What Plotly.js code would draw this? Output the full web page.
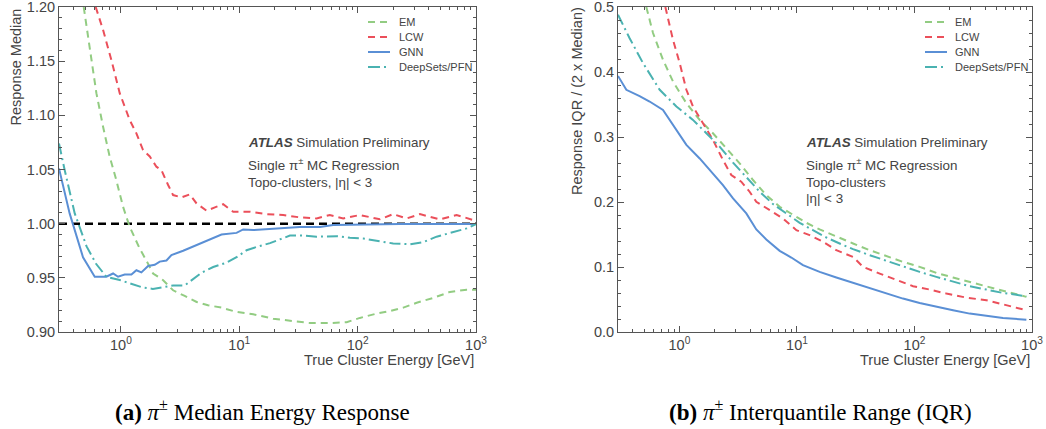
<!DOCTYPE html>
<html>
<head>
<meta charset="utf-8">
<script src="https://cdn.plot.ly/plotly-3.0.1.min.js"></script>
<style>html,body{margin:0;padding:0;background:#fff;}#chart{width:1046px;height:429px;}</style>
</head>
<body>
<div id="chart"></div>
<script>
// ---- Data (x stored as log10 of True Cluster Energy [GeV]) ----
const seriesNames = ["EM", "LCW", "GNN", "DeepSets/PFN"];

// (a) Response median
const medEmLogE = [-0.314,-0.264,-0.207,-0.151,-0.095,-0.039,0.018,0.074,0.159,0.215,0.272,0.355,0.441,0.539,0.64,0.736,0.85,0.977,1.118,1.286,1.456,1.597,1.765,1.907,2.019,2.16,2.273,2.386,2.499,2.639,2.78,2.921,3.0];
const medEmVal  = [1.200,1.1605,1.1205,1.0897,1.062,1.0403,1.0157,0.9972,0.977,0.966,0.954,0.948,0.9385,0.9333,0.9277,0.9247,0.9225,0.9185,0.9163,0.9123,0.9102,0.9083,0.9083,0.909,0.913,0.917,0.9194,0.9225,0.927,0.9315,0.937,0.939,0.939];

const medLcwLogE = [-0.213,-0.151,-0.081,-0.01,0.074,0.131,0.187,0.244,0.30,0.342,0.399,0.441,0.512,0.582,0.639,0.723,0.794,0.864,0.949,1.09,1.23,1.371,1.512,1.653,1.765,1.878,2.019,2.188,2.30,2.413,2.526,2.695,2.836,3.0];
const medLcwVal  = [1.200,1.179,1.1513,1.1205,1.0958,1.0834,1.068,1.062,1.0526,1.0495,1.0357,1.0264,1.0242,1.027,1.0187,1.012,1.015,1.018,1.011,1.011,1.0088,1.008,1.0058,1.0048,1.008,1.0048,1.008,1.004,1.0088,1.0048,1.0088,1.004,1.008,1.0026];

const medGnnLogE = [-0.523,-0.433,-0.32,-0.221,-0.123,-0.066,-0.024,0.032,0.089,0.131,0.173,0.23,0.286,0.328,0.385,0.427,0.526,0.61,0.695,0.78,0.85,0.977,1.033,1.118,1.23,1.371,1.512,1.681,1.794,2.076,2.358,3.0];
const medGnnVal  = [1.051,1.0095,0.969,0.951,0.951,0.954,0.951,0.953,0.953,0.957,0.955,0.961,0.962,0.965,0.966,0.971,0.975,0.979,0.983,0.987,0.990,0.9915,0.9947,0.9941,0.995,0.9956,0.997,0.997,0.9987,0.9993,0.9996,0.9996];

const medDsLogE = [-0.523,-0.475,-0.39,-0.29,-0.21,-0.123,-0.01,0.10,0.187,0.27,0.355,0.441,0.539,0.61,0.68,0.78,0.892,0.977,1.062,1.16,1.26,1.343,1.428,1.54,1.653,1.822,1.935,2.048,2.16,2.30,2.442,2.554,2.667,2.808,2.921,3.0];
const medDsVal  = [1.074,1.0495,1.0095,0.979,0.963,0.951,0.948,0.944,0.941,0.9398,0.9416,0.943,0.943,0.949,0.9546,0.960,0.964,0.969,0.9755,0.979,0.982,0.9855,0.989,0.989,0.988,0.9885,0.987,0.9863,0.984,0.9817,0.981,0.983,0.988,0.9925,0.9956,0.9996];

// (b) Response IQR / (2 x Median)
const iqrEmLogE = [-0.282,-0.225,-0.14,-0.055,0.059,0.172,0.285,0.399,0.512,0.626,0.739,0.853,0.966,1.08,1.193,1.335,1.477,1.619,1.761,1.902,2.044,2.186,2.328,2.47,2.612,2.753,2.952];
const iqrEmVal  = [0.500,0.46,0.4188,0.3854,0.352,0.3263,0.3058,0.2826,0.2595,0.2338,0.2107,0.1927,0.1799,0.168,0.1578,0.1465,0.1362,0.1259,0.1167,0.1079,0.1002,0.091,0.0838,0.0771,0.0694,0.0632,0.054];

const iqrLcwLogE = [-0.12,-0.055,0.002,0.059,0.115,0.2,0.285,0.37,0.441,0.526,0.597,0.654,0.768,0.881,0.995,1.108,1.222,1.335,1.477,1.562,1.704,1.846,1.988,2.129,2.271,2.441,2.612,2.753,2.952];
const iqrLcwVal  = [0.500,0.4496,0.4137,0.3726,0.3469,0.3212,0.2955,0.2647,0.2415,0.2312,0.2158,0.2004,0.1876,0.1747,0.1567,0.149,0.1388,0.1259,0.1156,0.1002,0.0899,0.0797,0.0704,0.0653,0.0591,0.0529,0.0488,0.0426,0.0334];

const iqrGnnLogE = [-0.523,-0.452,-0.339,-0.254,-0.14,-0.026,0.059,0.172,0.257,0.37,0.456,0.569,0.654,0.739,0.853,0.952,1.051,1.193,1.335,1.477,1.619,1.761,1.902,2.044,2.186,2.328,2.47,2.612,2.753,2.952];
const iqrGnnVal  = [0.394,0.3726,0.363,0.3546,0.3417,0.311,0.2878,0.267,0.249,0.226,0.2055,0.1824,0.1578,0.1423,0.1249,0.1146,0.1028,0.0925,0.0838,0.0755,0.0668,0.0591,0.0514,0.0447,0.0385,0.0334,0.0283,0.0247,0.0216,0.019];

const iqrDsLogE = [-0.523,-0.424,-0.31,-0.168,-0.026,0.115,0.229,0.342,0.456,0.569,0.683,0.796,0.91,1.023,1.136,1.25,1.363,1.477,1.619,1.761,1.902,2.044,2.186,2.328,2.47,2.612,2.753,2.952];
const iqrDsVal  = [0.488,0.452,0.4137,0.3726,0.3469,0.3263,0.3058,0.2852,0.2605,0.239,0.2158,0.1968,0.1824,0.168,0.1567,0.1454,0.1362,0.1274,0.1182,0.1095,0.1002,0.0925,0.0848,0.0771,0.0704,0.0653,0.0601,0.055];

const unityResponse = 1.0;
const xMajorTicks = [1, 10, 100, 1000];
const xMajorText = ["10<sup>0</sup>", "10<sup>1</sup>", "10<sup>2</sup>", "10<sup>3</sup>"];
const xMinorTicks = [0.3,0.4,0.5,0.6,0.7,0.8,0.9,2,3,4,5,6,7,8,9,20,30,40,50,60,70,80,90,200,300,400,500,600,700,800,900];
const xRange = [0.3, 1000];
const medTicks = [0.90, 0.95, 1.00, 1.05, 1.10, 1.15, 1.20];
const iqrTicks = [0.0, 0.1, 0.2, 0.3, 0.4, 0.5];

// ---- Styles ----
const seriesKeys = ["EM", "LCW", "GNN", "DS"];
const colors = {EM: "#92cc82", LCW: "#eb4f5a", GNN: "#5a8fd5", DS: "#4ab2b1"};
const dashes = {EM: "7px,5px", LCW: "7px,5px", GNN: "solid", DS: "11px,4px,2px,4px"};
const toE = a => a.map(v => Math.pow(10, v));

function tr(xl, y, key, name, xa, ya) {
  return {x: toE(xl), y: y, name: name, type: "scatter", mode: "lines",
    xaxis: xa, yaxis: ya, showlegend: false,
    line: {color: colors[key], width: 2, dash: dashes[key]}, hoverinfo: "skip"};
}

const data = [
  tr(medEmLogE, medEmVal, "EM", seriesNames[0], "x", "y"),
  tr(medLcwLogE, medLcwVal, "LCW", seriesNames[1], "x", "y"),
  tr(medGnnLogE, medGnnVal, "GNN", seriesNames[2], "x", "y"),
  tr(medDsLogE, medDsVal, "DS", seriesNames[3], "x", "y"),
  tr(iqrEmLogE, iqrEmVal, "EM", seriesNames[0], "x2", "y2"),
  tr(iqrLcwLogE, iqrLcwVal, "LCW", seriesNames[1], "x2", "y2"),
  tr(iqrGnnLogE, iqrGnnVal, "GNN", seriesNames[2], "x2", "y2"),
  tr(iqrDsLogE, iqrDsVal, "DS", seriesNames[3], "x2", "y2")
];

const axisColor = "#555";
const sans = "Liberation Sans, Arial, sans-serif";
const serif = "Liberation Serif, Times New Roman, serif";
const tickFont = {family: sans, size: 14.5, color: "#444"};
function xAxis(dom, anchor) {
  return {type: "log", domain: dom, anchor: anchor, range: [Math.log10(xRange[0]), Math.log10(xRange[1])],
    tickmode: "array", tickvals: xMajorTicks, ticktext: xMajorText, ticklabeloverflow: "allow",
    ticks: "inside", ticklen: 6, tickwidth: 1, tickcolor: axisColor,
    minor: {tickmode: "array", tickvals: xMinorTicks, ticks: "inside", ticklen: 3, tickwidth: 1, tickcolor: axisColor},
    showline: true, linecolor: axisColor, linewidth: 1, mirror: "ticks",
    showgrid: false, zeroline: false, tickfont: tickFont};
}
function yAxis(dom, anchor, rng, tv, mdt, fmt) {
  return {domain: dom, anchor: anchor, range: rng, tickmode: "array", tickvals: tv,
    ticktext: tv.map(v => v.toFixed(fmt)), ticklabeloverflow: "allow",
    ticks: "inside", ticklen: 6, tickwidth: 1, tickcolor: axisColor,
    minor: {dtick: mdt, tick0: 0, ticks: "inside", ticklen: 3, tickwidth: 1, tickcolor: axisColor},
    showline: true, linecolor: axisColor, linewidth: 1, mirror: "ticks",
    showgrid: false, zeroline: false, tickfont: tickFont};
}

const W = 1046, H = 429;
const yDom = [1 - 332/H, 1 - 7/H];
const txt = {family: sans, size: 13.4, color: "#444"};
const title = {family: sans, size: 14.5, color: "#444"};
const legFont = {family: sans, size: 11, color: "#444"};

function ann(x, y, text, font, xanchor, extra) {
  return Object.assign({xref: "paper", yref: "paper", x: x/W, y: 1 - y/H, text: text,
    showarrow: false, font: font, xanchor: xanchor, yanchor: "middle"}, extra || {});
}

// Hand-built legends (line sample + label) for both panels
const legendRows = [22, 37, 52, 67];
const legendShapes = [], legendAnns = [];
[[368, 390, 397], [925, 947, 953]].forEach(([x0, x1, xt]) => {
  seriesKeys.forEach((k, i) => {
    legendShapes.push({type: "line", xref: "paper", yref: "paper", x0: x0/W, x1: x1/W,
      y0: 1 - legendRows[i]/H, y1: 1 - legendRows[i]/H,
      line: {color: colors[k], width: 2, dash: k === "DS" ? "12px,4px,2px,4px" : dashes[k]}});
    legendAnns.push(ann(xt, legendRows[i], seriesNames[i], legFont, "left"));
  });
});

const layout = {
  width: W, height: H, margin: {l: 0, r: 0, t: 0, b: 0},
  paper_bgcolor: "#fff", plot_bgcolor: "#fff", showlegend: false,
  xaxis: xAxis([59/W, 476/W], "y"),
  yaxis: yAxis(yDom, "x", [0.9, 1.2], medTicks, 0.01, 2),
  xaxis2: xAxis([618/W, 1032/W], "y2"),
  yaxis2: yAxis(yDom, "x2", [0, 0.5], iqrTicks, 0.02, 1),
  shapes: [{type: "line", xref: "x domain", yref: "y", x0: 0, x1: 1, y0: unityResponse, y1: unityResponse,
    line: {color: "#000", width: 2.5, dash: "8px,5px"}, layer: "below"}].concat(legendShapes),
  annotations: [
    ann(476, 360, "True Cluster Energy [GeV]", title, "right"),
    ann(1032, 360, "True Cluster Energy [GeV]", title, "right"),
    Object.assign(ann(15, 7, "Response Median", title, "center", {textangle: -90}), {yanchor: "top"}),
    Object.assign(ann(577, 5, "Response IQR / (2 x Median)", title, "center", {textangle: -90}), {yanchor: "top"}),
    ann(246, 143, "<b><i>ATLAS</i></b> Simulation Preliminary", txt, "left"),
    ann(246, 165, "Single π<sup>±</sup> MC Regression", txt, "left"),
    ann(246, 182, "Topo-clusters, |η| &lt; 3", txt, "left"),
    ann(804, 143, "<b><i>ATLAS</i></b> Simulation Preliminary", txt, "left"),
    ann(804, 165, "Single π<sup>±</sup> MC Regression", txt, "left"),
    ann(804, 182, "Topo-clusters", txt, "left"),
    ann(804, 199, "|η| &lt; 3", txt, "left"),
    ann(262, 410, "<b>(a)</b> <i>π</i><sup>±</sup> Median Energy Response", {family: serif, size: 23, color: "#000"}, "center"),
    ann(820, 410, "<b>(b)</b> <i>π</i><sup>±</sup> Interquantile Range (IQR)", {family: serif, size: 23, color: "#000"}, "center")
  ].concat(legendAnns)
};

Plotly.newPlot("chart", data, layout, {staticPlot: true, displayModeBar: false});
</script>
</body>
</html>
